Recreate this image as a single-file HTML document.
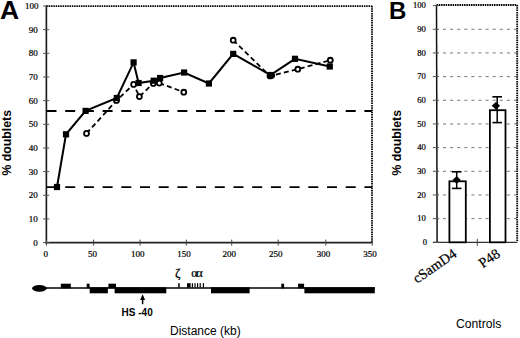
<!DOCTYPE html><html><head><meta charset="utf-8"><style>
html,body{margin:0;padding:0;background:#fff;}
body{width:520px;height:338px;overflow:hidden;position:relative;}
svg{position:absolute;left:0;top:0;}
.serif{font-family:"Liberation Serif",serif;stroke:#000;stroke-width:0.22px;}
.sans{font-family:"Liberation Sans",sans-serif;}
</style></head><body>
<svg width="520" height="338" viewBox="0 0 520 338">
<text class="sans" x="0.0" y="19.3" font-size="26.5" font-weight="bold" fill="#000">A</text>
<text class="sans" x="389" y="19.3" font-size="24" font-weight="bold" fill="#000">B</text>
<line x1="46.5" y1="6.1" x2="372.0" y2="6.1" stroke="#000" stroke-width="1.8" stroke-dasharray="1.5 0.8"/>
<line x1="372.0" y1="6" x2="372.0" y2="242.6" stroke="#000" stroke-width="1.8" stroke-dasharray="1.5 0.8"/>
<rect x="45" y="5.5" width="1" height="237.90" fill="#999"/>
<rect x="46" y="5.5" width="1.2" height="237.90" fill="#1a1a1a"/>
<line x1="45.2" y1="242.6" x2="372.0" y2="242.6" stroke="#222" stroke-width="1.7"/>
<line x1="43" y1="242.60" x2="49.3" y2="242.60" stroke="#555" stroke-width="1"/>
<text class="serif" x="37.7" y="245.70" font-size="9" text-anchor="end" fill="#000">0</text>
<line x1="43" y1="218.94" x2="49.3" y2="218.94" stroke="#555" stroke-width="1"/>
<text class="serif" x="37.7" y="222.04" font-size="9" text-anchor="end" fill="#000">10</text>
<line x1="43" y1="195.28" x2="49.3" y2="195.28" stroke="#555" stroke-width="1"/>
<text class="serif" x="37.7" y="198.38" font-size="9" text-anchor="end" fill="#000">20</text>
<line x1="43" y1="171.62" x2="49.3" y2="171.62" stroke="#555" stroke-width="1"/>
<text class="serif" x="37.7" y="174.72" font-size="9" text-anchor="end" fill="#000">30</text>
<line x1="43" y1="147.96" x2="49.3" y2="147.96" stroke="#555" stroke-width="1"/>
<text class="serif" x="37.7" y="151.06" font-size="9" text-anchor="end" fill="#000">40</text>
<line x1="43" y1="124.30" x2="49.3" y2="124.30" stroke="#555" stroke-width="1"/>
<text class="serif" x="37.7" y="127.40" font-size="9" text-anchor="end" fill="#000">50</text>
<line x1="43" y1="100.64" x2="49.3" y2="100.64" stroke="#555" stroke-width="1"/>
<text class="serif" x="37.7" y="103.74" font-size="9" text-anchor="end" fill="#000">60</text>
<line x1="43" y1="76.98" x2="49.3" y2="76.98" stroke="#555" stroke-width="1"/>
<text class="serif" x="37.7" y="80.08" font-size="9" text-anchor="end" fill="#000">70</text>
<line x1="43" y1="53.32" x2="49.3" y2="53.32" stroke="#555" stroke-width="1"/>
<text class="serif" x="37.7" y="56.42" font-size="9" text-anchor="end" fill="#000">80</text>
<line x1="43" y1="29.66" x2="49.3" y2="29.66" stroke="#555" stroke-width="1"/>
<text class="serif" x="37.7" y="32.76" font-size="9" text-anchor="end" fill="#000">90</text>
<line x1="43" y1="6.00" x2="49.3" y2="6.00" stroke="#555" stroke-width="1"/>
<text class="serif" x="38.6" y="9.10" font-size="9" text-anchor="end" fill="#000">100</text>
<line x1="46.50" y1="239.6" x2="46.50" y2="245.6" stroke="#444" stroke-width="1"/>
<text class="serif" x="45.70" y="256.6" font-size="9" text-anchor="middle" fill="#000">0</text>
<line x1="93.60" y1="239.6" x2="93.60" y2="245.6" stroke="#444" stroke-width="1"/>
<text class="serif" x="92.50" y="256.6" font-size="9" text-anchor="middle" fill="#000">50</text>
<line x1="140.10" y1="239.6" x2="140.10" y2="245.6" stroke="#444" stroke-width="1"/>
<text class="serif" x="137.70" y="256.6" font-size="9" text-anchor="middle" fill="#000">100</text>
<line x1="186.30" y1="239.6" x2="186.30" y2="245.6" stroke="#444" stroke-width="1"/>
<text class="serif" x="183.90" y="256.6" font-size="9" text-anchor="middle" fill="#000">150</text>
<line x1="231.70" y1="239.6" x2="231.70" y2="245.6" stroke="#444" stroke-width="1"/>
<text class="serif" x="229.30" y="256.6" font-size="9" text-anchor="middle" fill="#000">200</text>
<line x1="278.20" y1="239.6" x2="278.20" y2="245.6" stroke="#444" stroke-width="1"/>
<text class="serif" x="275.80" y="256.6" font-size="9" text-anchor="middle" fill="#000">250</text>
<line x1="325.80" y1="239.6" x2="325.80" y2="245.6" stroke="#444" stroke-width="1"/>
<text class="serif" x="323.40" y="256.6" font-size="9" text-anchor="middle" fill="#000">300</text>
<line x1="372.30" y1="239.6" x2="372.30" y2="245.6" stroke="#444" stroke-width="1"/>
<text class="serif" x="369.90" y="256.6" font-size="9" text-anchor="middle" fill="#000">350</text>
<line x1="46.5" y1="111.0" x2="372.0" y2="111.0" stroke="#000" stroke-width="1.8" stroke-dasharray="10 8.7"/>
<line x1="46.5" y1="187.2" x2="372.0" y2="187.2" stroke="#000" stroke-width="1.8" stroke-dasharray="10 8.7"/>
<polyline points="86.5,133.4 116.5,100.5 133.6,84.4 139.4,96.6 153.3,83.4 159.3,83.1 183.8,92.2" fill="none" stroke="#000" stroke-width="1.8" stroke-dasharray="5 3.2"/>
<polyline points="233.2,40.2 270,76 297.8,69.2 330.3,60.2" fill="none" stroke="#000" stroke-width="1.8" stroke-dasharray="5 3.2"/>
<polyline points="57,187 66,134.3 85.6,110.9 116.8,98 133.6,62.4 138.6,83 153.7,80.7 160.1,78 184.1,72.5 208.9,83.5 233.2,53.9 270.4,75 295,58.8 329.8,66.5" fill="none" stroke="#000" stroke-width="2"/>
<circle cx="86.5" cy="133.4" r="2.45" fill="#fff" stroke="#000" stroke-width="1.8"/>
<circle cx="116.5" cy="100.5" r="2.45" fill="#fff" stroke="#000" stroke-width="1.8"/>
<circle cx="133.6" cy="84.4" r="2.45" fill="#fff" stroke="#000" stroke-width="1.8"/>
<circle cx="139.4" cy="96.6" r="2.45" fill="#fff" stroke="#000" stroke-width="1.8"/>
<circle cx="153.3" cy="83.4" r="2.45" fill="#fff" stroke="#000" stroke-width="1.8"/>
<circle cx="159.3" cy="83.1" r="2.45" fill="#fff" stroke="#000" stroke-width="1.8"/>
<circle cx="183.8" cy="92.2" r="2.45" fill="#fff" stroke="#000" stroke-width="1.8"/>
<circle cx="233.2" cy="40.2" r="2.45" fill="#fff" stroke="#000" stroke-width="1.8"/>
<circle cx="270" cy="76" r="2.45" fill="#fff" stroke="#000" stroke-width="1.8"/>
<circle cx="297.8" cy="69.2" r="2.45" fill="#fff" stroke="#000" stroke-width="1.8"/>
<circle cx="330.3" cy="60.2" r="2.45" fill="#fff" stroke="#000" stroke-width="1.8"/>
<rect x="53.90" y="183.90" width="6.2" height="6.2" fill="#000"/>
<rect x="62.90" y="131.20" width="6.2" height="6.2" fill="#000"/>
<rect x="82.50" y="107.80" width="6.2" height="6.2" fill="#000"/>
<rect x="113.70" y="94.90" width="6.2" height="6.2" fill="#000"/>
<rect x="130.50" y="59.30" width="6.2" height="6.2" fill="#000"/>
<rect x="135.50" y="79.90" width="6.2" height="6.2" fill="#000"/>
<rect x="150.60" y="77.60" width="6.2" height="6.2" fill="#000"/>
<rect x="157.00" y="74.90" width="6.2" height="6.2" fill="#000"/>
<rect x="181.00" y="69.40" width="6.2" height="6.2" fill="#000"/>
<rect x="205.80" y="80.40" width="6.2" height="6.2" fill="#000"/>
<rect x="230.10" y="50.80" width="6.2" height="6.2" fill="#000"/>
<rect x="267.30" y="71.90" width="6.2" height="6.2" fill="#000"/>
<rect x="291.90" y="55.70" width="6.2" height="6.2" fill="#000"/>
<rect x="326.70" y="63.40" width="6.2" height="6.2" fill="#000"/>
<ellipse cx="271.0" cy="75.6" rx="4.1" ry="3.4" fill="#000"/>
<text class="sans" transform="translate(11,142.8) rotate(-90)" font-size="12.3" font-weight="bold" text-anchor="middle" fill="#000">% doublets</text>
<ellipse cx="39.4" cy="288.3" rx="7.3" ry="3.4" fill="#000"/>
<line x1="39" y1="288" x2="375" y2="288" stroke="#000" stroke-width="1.6"/>
<rect x="60.8" y="283.7" width="10.00" height="4.6" fill="#000"/>
<rect x="86.7" y="283.7" width="2.90" height="4.6" fill="#000"/>
<rect x="108.4" y="283.7" width="7.60" height="4.6" fill="#000"/>
<rect x="281.3" y="283.7" width="2.80" height="4.6" fill="#000"/>
<rect x="298.1" y="283.7" width="6.00" height="4.6" fill="#000"/>
<rect x="89.7" y="287.3" width="18.20" height="6" fill="#000"/>
<rect x="114.6" y="287.3" width="51.70" height="6" fill="#000"/>
<rect x="211" y="287.3" width="38.60" height="6" fill="#000"/>
<rect x="304.4" y="287.3" width="70.40" height="6" fill="#000"/>
<rect x="178.2" y="283.2" width="1.5" height="4.4" fill="#000"/>
<rect x="187" y="283.2" width="3.6" height="4.4" fill="#000"/>
<rect x="191.8" y="283.2" width="1.2" height="4.4" fill="#000"/>
<rect x="194.4" y="283.2" width="1.2" height="4.4" fill="#000"/>
<rect x="197" y="283.2" width="1.2" height="4.4" fill="#000"/>
<rect x="199.6" y="283.2" width="1.2" height="4.4" fill="#000"/>
<rect x="202.8" y="283.2" width="1.2" height="4.4" fill="#000"/>
<text class="serif" x="175.0" y="277.0" font-size="13.2" fill="#000">&#950;</text>
<text class="serif" x="191.2" y="276.6" font-size="12.4" letter-spacing="-1.4" fill="#000">&#945;&#945;</text>
<line x1="142.6" y1="298" x2="142.6" y2="304.2" stroke="#000" stroke-width="1.5"/>
<polygon points="142.6,294.2 140.1,300 145.1,300" fill="#000"/>
<text class="sans" x="121.6" y="315.6" font-size="10" font-weight="bold" fill="#000">HS -40</text>
<text class="sans" x="170" y="335.1" font-size="12" fill="#000">Distance (kb)</text>
<line x1="443" y1="218.63" x2="517.2" y2="218.63" stroke="#777" stroke-width="1" stroke-dasharray="3 4.1"/>
<line x1="443" y1="194.96" x2="517.2" y2="194.96" stroke="#777" stroke-width="1" stroke-dasharray="3 4.1"/>
<line x1="443" y1="171.29" x2="517.2" y2="171.29" stroke="#777" stroke-width="1" stroke-dasharray="3 4.1"/>
<line x1="443" y1="147.62" x2="517.2" y2="147.62" stroke="#777" stroke-width="1" stroke-dasharray="3 4.1"/>
<line x1="443" y1="123.95" x2="517.2" y2="123.95" stroke="#777" stroke-width="1" stroke-dasharray="3 4.1"/>
<line x1="443" y1="100.28" x2="517.2" y2="100.28" stroke="#777" stroke-width="1" stroke-dasharray="3 4.1"/>
<line x1="443" y1="76.61" x2="517.2" y2="76.61" stroke="#777" stroke-width="1" stroke-dasharray="3 4.1"/>
<line x1="443" y1="52.94" x2="517.2" y2="52.94" stroke="#777" stroke-width="1" stroke-dasharray="3 4.1"/>
<line x1="443" y1="29.27" x2="517.2" y2="29.27" stroke="#777" stroke-width="1" stroke-dasharray="3 4.1"/>
<line x1="436.5" y1="5.0" x2="517.2" y2="5.0" stroke="#000" stroke-width="1.8" stroke-dasharray="1.5 0.8"/>
<line x1="517.2" y1="5.0" x2="517.2" y2="242.3" stroke="#000" stroke-width="1.8" stroke-dasharray="1.5 0.8"/>
<line x1="436.5" y1="5.1" x2="437.1" y2="243.10000000000002" stroke="#111" stroke-width="1.5"/>
<line x1="433" y1="242.3" x2="517.2" y2="242.3" stroke="#333" stroke-width="1.2"/>
<line x1="432.8" y1="242.30" x2="439" y2="242.30" stroke="#555" stroke-width="1"/>
<text class="serif" x="427.0" y="244.90" font-size="8.6" text-anchor="end" fill="#000">0</text>
<line x1="432.8" y1="218.63" x2="439" y2="218.63" stroke="#555" stroke-width="1"/>
<text class="serif" x="425.8" y="221.23" font-size="8.6" text-anchor="end" fill="#000">10</text>
<line x1="432.8" y1="194.96" x2="439" y2="194.96" stroke="#555" stroke-width="1"/>
<text class="serif" x="425.8" y="197.56" font-size="8.6" text-anchor="end" fill="#000">20</text>
<line x1="432.8" y1="171.29" x2="439" y2="171.29" stroke="#555" stroke-width="1"/>
<text class="serif" x="425.8" y="173.89" font-size="8.6" text-anchor="end" fill="#000">30</text>
<line x1="432.8" y1="147.62" x2="439" y2="147.62" stroke="#555" stroke-width="1"/>
<text class="serif" x="425.8" y="150.22" font-size="8.6" text-anchor="end" fill="#000">40</text>
<line x1="432.8" y1="123.95" x2="439" y2="123.95" stroke="#555" stroke-width="1"/>
<text class="serif" x="425.8" y="126.55" font-size="8.6" text-anchor="end" fill="#000">50</text>
<line x1="432.8" y1="100.28" x2="439" y2="100.28" stroke="#555" stroke-width="1"/>
<text class="serif" x="425.8" y="102.88" font-size="8.6" text-anchor="end" fill="#000">60</text>
<line x1="432.8" y1="76.61" x2="439" y2="76.61" stroke="#555" stroke-width="1"/>
<text class="serif" x="425.8" y="79.21" font-size="8.6" text-anchor="end" fill="#000">70</text>
<line x1="432.8" y1="52.94" x2="439" y2="52.94" stroke="#555" stroke-width="1"/>
<text class="serif" x="425.8" y="55.54" font-size="8.6" text-anchor="end" fill="#000">80</text>
<line x1="432.8" y1="29.27" x2="439" y2="29.27" stroke="#555" stroke-width="1"/>
<text class="serif" x="425.8" y="31.87" font-size="8.6" text-anchor="end" fill="#000">90</text>
<line x1="432.8" y1="5.60" x2="439" y2="5.60" stroke="#555" stroke-width="1"/>
<text class="serif" x="425.8" y="8.20" font-size="8.6" text-anchor="end" fill="#000">100</text>
<line x1="477.3" y1="238.8" x2="477.3" y2="245.8" stroke="#444" stroke-width="1"/>
<rect x="449.4" y="181.3" width="16.4" height="61.00" fill="#fff" stroke="#000" stroke-width="1.8"/>
<rect x="489.9" y="110.2" width="15.6" height="132.10" fill="#fff" stroke="#000" stroke-width="1.8"/>
<line x1="456.7" y1="171.8" x2="456.7" y2="188.4" stroke="#000" stroke-width="1.5"/>
<line x1="451.9" y1="171.8" x2="461.5" y2="171.8" stroke="#000" stroke-width="1.6"/>
<line x1="451.9" y1="188.4" x2="461.5" y2="188.4" stroke="#000" stroke-width="1.6"/>
<polygon points="452.5,179.9 456.7,176.1 460.9,179.9 456.7,183.70000000000002" fill="#000"/>
<line x1="497.2" y1="96.8" x2="497.2" y2="122.6" stroke="#000" stroke-width="1.5"/>
<line x1="492.4" y1="96.8" x2="502.0" y2="96.8" stroke="#000" stroke-width="1.6"/>
<line x1="492.4" y1="122.6" x2="502.0" y2="122.6" stroke="#000" stroke-width="1.6"/>
<polygon points="491.7,105.7 495.9,101.9 500.09999999999997,105.7 495.9,109.5" fill="#000"/>
<text class="serif" transform="translate(417,283.8) rotate(-34.5)" font-size="14.3" fill="#000">cSamD4</text>
<text class="serif" transform="translate(482.7,268.5) rotate(-34.5)" font-size="14.3" fill="#000">P48</text>
<text class="sans" transform="translate(400.6,142.8) rotate(-90)" font-size="12.3" font-weight="bold" text-anchor="middle" fill="#000">% doublets</text>
<text class="sans" x="456" y="327.7" font-size="12.2" fill="#000">Controls</text>
</svg></body></html>
